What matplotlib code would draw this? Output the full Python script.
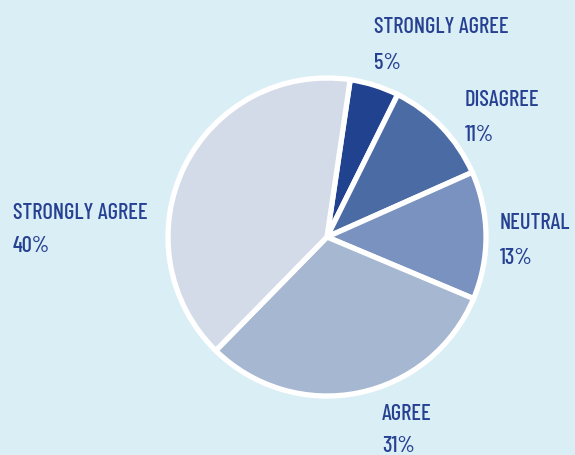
import matplotlib
matplotlib.use("Agg")
import matplotlib.pyplot as plt

# Survey responses, clockwise from the top
labels = ["STRONGLY AGREE", "DISAGREE", "NEUTRAL", "AGREE", "STRONGLY AGREE"]
values = [5, 11, 13, 31, 40]
colors = ["#21438f", "#4b6ba5", "#7a92bf", "#a6b7d1", "#d3dbe9"]

# Label placement in pixels from the top-left: x, baseline of name, baseline of percentage
label_pos = [(374, 33, 69), (465, 106, 141), (500, 229, 264), (382, 420, 452), (13, 219, 252)]

BG = "#daeef6"
TEXT = "#274192"
FAMILY = ["Barlow Condensed", "DejaVu Sans"]

W, H = 575, 455
fig = plt.figure(figsize=(W / 100, H / 100), dpi=100, facecolor=BG)

cx, cy, r = 327, 237, 159
ax = fig.add_axes([(cx - r) / W, (H - cy - r) / H, 2 * r / W, 2 * r / H])
ax.set_facecolor(BG)
ax.pie(values, colors=colors, startangle=81.6, counterclock=False,
       wedgeprops=dict(edgecolor="white", linewidth=3.8, joinstyle="miter"))
ax.set_xlim(-1.0, 1.0)
ax.set_ylim(-1.0, 1.0)
ax.set_aspect("equal")
ax.axis("off")

for lab, val, (px, py1, py2) in zip(labels, values, label_pos):
    fig.text(px / W, 1 - py1 / H, lab, color=TEXT, family=FAMILY,
             fontsize=16.2, fontweight="medium", ha="left", va="baseline")
    fig.text(px / W, 1 - py2 / H, f"{val}%", color=TEXT, family=FAMILY,
             fontsize=16.2, fontweight="medium", ha="left", va="baseline")

fig.savefig("out.png", dpi=100, facecolor=BG)
